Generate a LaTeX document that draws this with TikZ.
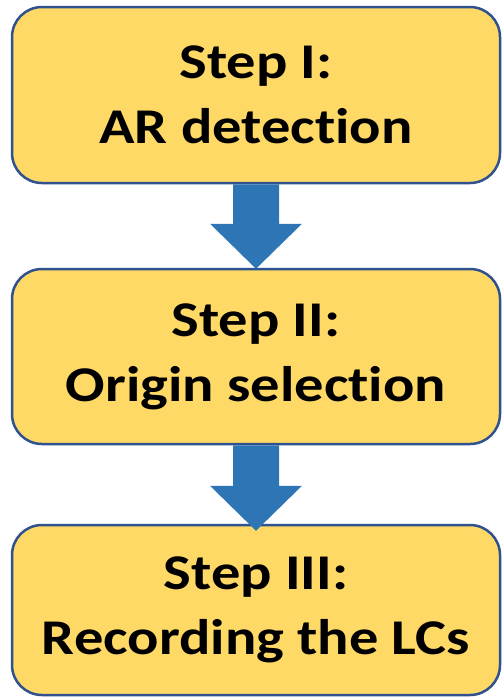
\documentclass[tikz,border=0pt]{standalone}
\usepackage{fontspec}
\setmainfont{Carlito}[FakeStretch=1.17,Ligatures=NoCommon]
\usepackage{tikz}

\definecolor{stepfill}{HTML}{FFD966}
\definecolor{stepline}{HTML}{2F528F}
\definecolor{stepblue}{HTML}{2E75B6}

\begin{document}
\begin{tikzpicture}[x=1pt,y=-1pt]
			\tikzstyle{stepbox}=[draw=stepline,fill=stepfill,line width=2.5pt,rounded corners=30pt,
				minimum width=488pt,align=center,font=\fontsize{50}{65}\selectfont\bfseries]
			\tikzstyle{stepdown}=[fill=stepblue]
		\useasboundingbox (0,0) rectangle (503,697);

		\node[stepbox,minimum height=176pt] (b1) at (256,95) {Step I:\\AR detection};
		\node[stepbox,minimum height=175pt] (b2) at (256,356.5) {Step II:\\Origin selection};
		\node[stepbox,minimum height=170pt] (b3) at (256,610) {Step III:\\Recording the LCs};

		% arrow tips
		\coordinate (t1) at ([yshift=-1pt]b2.north);
		\coordinate (t2) at ([yshift=-7pt]b3.north);

		\foreach \a/\b in {b1/t1,b2/t2}{
			\fill[stepdown] ([xshift=-23pt]\a.south) -- ([xshift=-23pt,yshift=45pt]\b)
				-- ([xshift=-46pt,yshift=45pt]\b) -- (\b)
				-- ([xshift=46pt,yshift=45pt]\b) -- ([xshift=23pt,yshift=45pt]\b)
				-- ([xshift=23pt]\a.south) -- cycle;
		}
\end{tikzpicture}
\end{document}
